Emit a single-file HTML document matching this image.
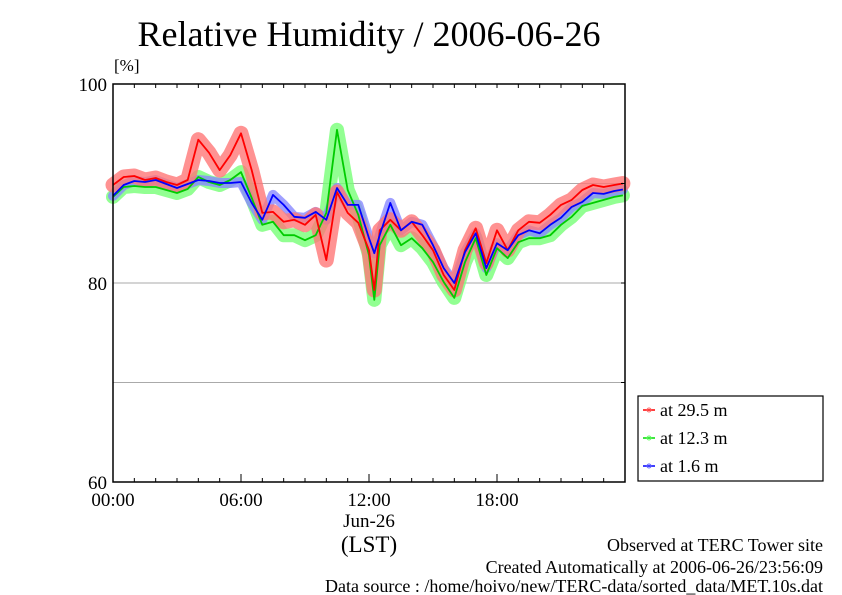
<!DOCTYPE html>
<html><head><meta charset="utf-8"><style>
body{margin:0;background:#fff;}
svg{display:block;font-family:"Liberation Serif",serif;}
</style></head><body>
<svg id="c" width="842" height="595" viewBox="0 0 842 595">
<text x="369" y="46" font-size="36" text-anchor="middle">Relative Humidity / 2006-06-26</text>
<text x="114" y="71" font-size="17">[%]</text>
<g id="grid"></g>
<g id="series"></g>
<g id="axes"></g>
<g>
<rect x="638" y="396" width="185" height="85" fill="#fff" stroke="#000" stroke-width="1.2"/>
<line x1="643" y1="410" x2="655" y2="410" stroke="#f00" stroke-width="1.5"/><circle cx="649" cy="410" r="2" fill="none" stroke="#f66"/>
<text x="660" y="416" font-size="18">at 29.5 m</text>
<line x1="643" y1="438" x2="655" y2="438" stroke="#0d0" stroke-width="1.5"/><circle cx="649" cy="438" r="2" fill="none" stroke="#6f6"/>
<text x="660" y="444" font-size="18">at 12.3 m</text>
<line x1="643" y1="466" x2="655" y2="466" stroke="#00f" stroke-width="1.5"/><circle cx="649" cy="466" r="2" fill="none" stroke="#66f"/>
<text x="660" y="472" font-size="18">at 1.6 m</text>
</g>
<text x="369" y="527" font-size="19" text-anchor="middle">Jun-26</text>
<text x="369" y="552" font-size="23" text-anchor="middle">(LST)</text>
<text x="823" y="551" font-size="18" text-anchor="end">Observed at TERC Tower site</text>
<text x="823" y="573" font-size="18" text-anchor="end">Created Automatically at 2006-06-26/23:56:09</text>
<text x="823" y="596" font-size="18" text-anchor="end" dy="-4">Data source : /home/hoivo/new/TERC-data/sorted_data/MET.10s.dat</text>
</svg>
<script>
const hours=[0,0.5,1,1.5,2,2.5,3,3.5,4,4.5,5,5.5,6,6.5,7,7.5,8,8.5,9,9.5,10,10.5,11,11.5,12,12.25,12.5,13,13.5,14,14.5,15,15.5,16,16.5,17,17.5,18,18.5,19,19.5,20,20.5,21,21.5,22,22.5,23,23.5,23.9];
const rh29=[89.85,90.65,90.75,90.35,90.55,90.15,89.85,90.35,94.4,93.1,91.35,92.85,95.05,91.35,87.05,87.15,86.15,86.35,85.85,86.85,82.3,89.15,87.05,86.05,83.3,79.3,85.3,86.35,85.3,86.15,84.8,83.3,80.8,79.3,83.3,85.5,82.0,85.3,83.3,85.3,86.15,86.05,86.85,87.85,88.35,89.35,89.85,89.65,89.85,90.0];
const rh12=[88.65,89.65,89.75,89.65,89.65,89.35,89.05,89.45,90.65,90.15,89.85,90.35,91.15,88.55,85.85,86.15,84.8,84.8,84.3,84.8,87.05,95.4,89.35,86.85,82.8,78.3,83.8,85.85,83.8,84.5,83.5,82.1,80.1,78.5,82.1,84.5,80.8,83.5,82.5,84.1,84.5,84.5,84.8,85.85,86.65,87.75,88.05,88.35,88.65,88.8];
const rh1=[88.75,89.85,90.25,90.15,90.35,89.95,89.55,89.95,90.35,90.25,90.05,90.05,90.15,88.05,86.35,88.85,87.85,86.65,86.55,87.15,86.35,89.55,87.85,87.85,84.5,83.0,84.8,88.05,85.3,86.15,85.85,83.8,81.5,80.0,83.1,85.0,81.5,84.0,83.3,84.8,85.3,85.0,85.85,86.55,87.65,88.15,89.05,88.95,89.25,89.4];
const yTicks=[60,80,100];
const xTickLabels=["00:00","06:00","12:00","18:00"];
const xTickHours=[0,6,12,18];
const gridVals=[70,80,90];
const NS="http://www.w3.org/2000/svg";
const X0=113,X1=625,Y0=482,Y1=84;
const sx=h=>X0+(X1-X0)*h/24;
const sy=v=>Y0-(Y0-Y1)*(v-60)/40;
function mk(tag,attrs,parent){const e=document.createElementNS(NS,tag);for(const k in attrs)e.setAttribute(k,attrs[k]);parent.appendChild(e);return e;}
const grid=document.getElementById('grid'),ser=document.getElementById('series'),ax=document.getElementById('axes');
gridVals.forEach(v=>{const l=mk('line',{x1:X0,x2:X1,y1:sy(v),y2:sy(v),stroke:'#aaa','stroke-width':1},grid);

});
function path(arr){return arr.map((v,i)=>(i?'L':'M')+sx(hours[i]).toFixed(1)+' '+sy(v).toFixed(1)).join(' ');}
const bands=[[rh12,'#7f7',14,'band-12.3m'],[rh1,'#88f',10,'band-1.6m'],[rh29,'#f77',15,'band-29.5m']];
bands.forEach(b=>{const p=mk('path',{d:path(b[0]),fill:'none',stroke:b[1],'stroke-width':b[2],'stroke-linejoin':'round','stroke-linecap':'round',opacity:0.8},ser);

});
const lines=[[rh12,'#0c0','line-12.3m'],[rh29,'#f00','line-29.5m'],[rh1,'#00f','line-1.6m']];
lines.forEach(b=>{const p=mk('path',{d:path(b[0]),fill:'none',stroke:b[1],'stroke-width':1.8,'stroke-linejoin':'round'},ser);

});
const frame=mk('rect',{x:X0,y:Y1,width:X1-X0,height:Y0-Y1,fill:'none',stroke:'#000','stroke-width':1.5},ax);


for(let h=1;h<24;h++){mk('line',{x1:sx(h),x2:sx(h),y1:Y1,y2:Y1+4,stroke:'#000'},ax);mk('line',{x1:sx(h),x2:sx(h),y1:Y0,y2:Y0-4,stroke:'#000'},ax);}
xTickHours.forEach((h,i)=>{mk('line',{x1:sx(h),x2:sx(h),y1:Y0,y2:Y0-8,stroke:'#000'},ax);
const t=mk('text',{x:sx(h),y:506,'font-size':19,'text-anchor':'middle'},ax);t.textContent=xTickLabels[i];

});
yTicks.forEach(v=>{const t=mk('text',{x:107,y:sy(v)+7,'font-size':19,'text-anchor':'end'},ax);t.textContent=v;

});
gridVals.forEach(v=>{mk('line',{x1:X1,x2:X1-4,y1:sy(v),y2:sy(v),stroke:'#000'},ax);});
</script>
</body></html>
